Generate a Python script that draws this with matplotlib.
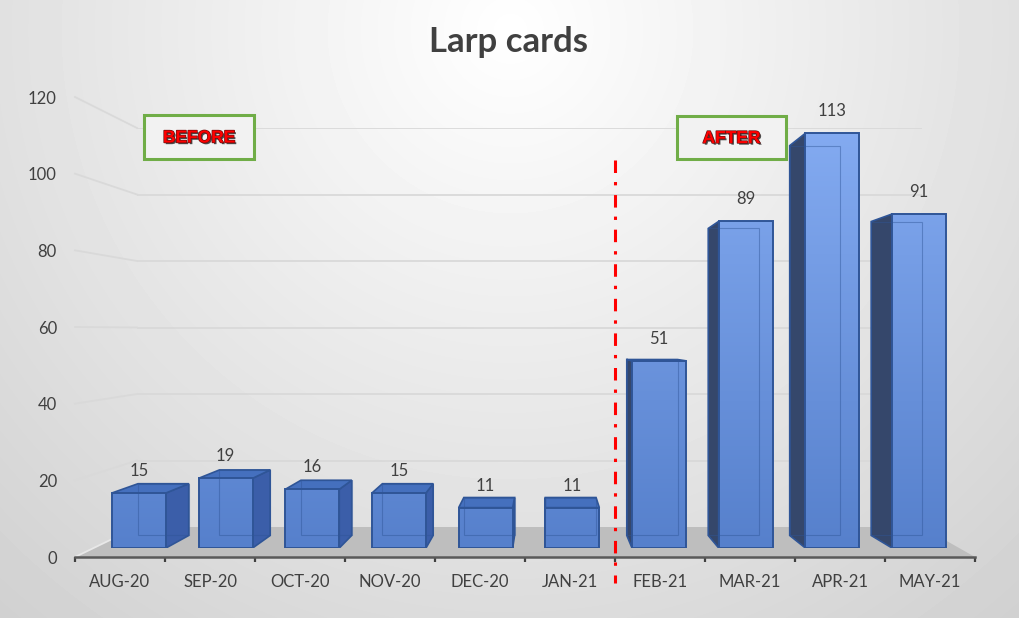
import numpy as np
import matplotlib
matplotlib.use("Agg")
import matplotlib.pyplot as plt
from matplotlib.patches import Polygon, Rectangle
from matplotlib.colors import LinearSegmentedColormap
import matplotlib.patheffects as pe

months = ["AUG-20", "SEP-20", "OCT-20", "NOV-20", "DEC-20",
          "JAN-21", "FEB-21", "MAR-21", "APR-21", "MAY-21"]
cards = [15, 19, 16, 15, 11, 11, 51, 89, 113, 91]
y_ticks = [0, 20, 40, 60, 80, 100, 120]
split_at = 5.5  # between JAN-21 and FEB-21

plt.rcParams["font.family"] = ["Lato", "DejaVu Sans"]
plt.rcParams["lines.scale_dashes"] = False

W, H = 1020, 618
fig = plt.figure(figsize=(W / 100, H / 100), dpi=100)


def px_axes(left, top, right, bottom, z):
    # axes placed by pixel box (top-left origin)
    ax = fig.add_axes([left / W, 1 - bottom / H, (right - left) / W, (bottom - top) / H])
    ax.set_zorder(z)
    ax.patch.set_alpha(0)
    return ax


# background with soft radial light
bg = px_axes(0, 0, W, H, 0)
bg.set_xlim(0, W)
bg.set_ylim(H, 0)
bg.axis("off")
yy, xx = np.mgrid[0:H, 0:W]
shade = np.clip(1 - 0.000235 * np.hypot(xx - 510, yy - 30), 0, 1)
bg.imshow(shade, cmap="gray", vmin=0, vmax=1, extent=[0, W, H, 0], aspect="auto")

# back wall
wall = px_axes(137, 128, 922, 527, 1)
wall.set_xlim(0, 1)
wall.set_ylim(0, 120)
wall.axis("off")
wall.hlines(y_ticks[1:], 0, 1, color="#D9D9D9", lw=1.3)

# front axis with tick labels
lab = px_axes(75, 97, 975, 557, 2)
lab.set_xlim(-0.5, 9.5)
lab.set_ylim(0, 120)


def to_bg(ax, x, y):
    return bg.transData.inverted().transform(ax.transData.transform((x, y)))


# left wall gridlines and floor
for v in y_ticks:
    p0 = to_bg(lab, -0.5, v)
    p1 = to_bg(wall, 0, v)
    bg.plot([p0[0], p1[0]], [p0[1], p1[1]], color="#D9D9D9" if v else "#E8E8E8", lw=1.3)
floor = [to_bg(lab, -0.5, 0), to_bg(lab, 9.5, 0), to_bg(wall, 1, 0), to_bg(wall, 0, 0)]
bg.add_patch(Polygon(floor, closed=True, fc="#BEBEBE", ec="none"))

lab.set_xticks(range(len(months)), months)
lab.set_xticks(np.arange(-0.5, len(months), 1), minor=True)
lab.set_yticks(y_ticks)
for side in ["top", "right", "left"]:
    lab.spines[side].set_visible(False)
lab.spines["bottom"].set_color("#595959")
lab.spines["bottom"].set_linewidth(1.8)
lab.tick_params(axis="x", which="major", length=0, pad=12.5, labelsize=12, labelcolor="#404040")
lab.tick_params(axis="x", which="minor", length=3.5, width=1.6, color="#404040", direction="out")
lab.tick_params(axis="y", length=0, pad=13, labelsize=12, labelcolor="#404040")
lab.plot([split_at, split_at], [103.6, -6.8], color="#FF0000", lw=2.2,
         linestyle=(0, (9, 6.5, 2.4, 7)), clip_on=False)

# 3d-looking bars
bar = px_axes(95.67, 107.6, 962.33, 548, 3)
bar.axis("off")
w = 0.623
s = 0.94
vx, vy = 4.684, 56.95
edge = "#2F5597"
x = np.arange(len(cards))

for i, v in enumerate(cards):
    fl, fr = i - w / 2, i + w / 2
    bl, br = vx + s * (fl - vx), vx + s * (fr - vx)
    bt, bb = vy + s * (v - vy), vy + s * (0 - vy)
    if bl < fl:
        bar.add_patch(Polygon([(fl, 0), (fl, v), (bl, bt), (bl, bb)], fc="#35476B", ec=edge, lw=1.2, zorder=2))
    if br > fr:
        bar.add_patch(Polygon([(fr, 0), (fr, v), (br, bt), (br, bb)], fc="#3B5EA9", ec=edge, lw=1.2, zorder=2))
    if bt > v:
        bar.add_patch(Polygon([(fl, v), (fr, v), (br, bt), (bl, bt)], fc="#4570BE", ec=edge, lw=1.2, zorder=2))
    bar.add_patch(Rectangle((bl, bb), br - bl, bt - bb, fill=False, ec=edge, lw=0.8, alpha=0.45, zorder=5))
    bar.text(i, v + 6, str(v), ha="center", va="center", fontsize=12, color="#404040")

front = bar.bar(x, cards, width=w, color="none", edgecolor=edge, lw=1.4, zorder=4)
grad_cmap = LinearSegmentedColormap.from_list("front", ["#5680CC", "#86ADF3"])
grad = np.linspace(0, 1, 256).reshape(-1, 1)
for i, rect in enumerate(front):
    img = bar.imshow(grad, cmap=grad_cmap, extent=[i - w / 2, i + w / 2, 0, 120],
                     origin="lower", aspect="auto", zorder=3)
    img.set_clip_path(rect)
bar.set_xlim(-0.5, 9.5)
bar.set_ylim(0, 120)

# overlay: title and before/after boxes
top = px_axes(0, 0, W, H, 5)
top.set_xlim(0, W)
top.set_ylim(H, 0)
top.axis("off")
top.text(509, 42, "Larp cards", ha="center", va="center", fontsize=25,
         fontweight="bold", color="#404040")

tag_fx = [pe.withSimplePatchShadow(offset=(1.2, -1.2), shadow_rgbFace="#3A3A3A", alpha=0.9),
          pe.withStroke(linewidth=1.0, foreground="#6A1010")]
for (bx0, by0, bx1, by1), tag in [((144, 115, 254, 159), "BEFORE"), ((677, 116, 786, 159), "AFTER")]:
    top.add_patch(Rectangle((bx0, by0), bx1 - bx0, by1 - by0, fc="#F2F2F2", ec="#70AD47", lw=2.2))
    top.text((bx0 + bx1) / 2, (by0 + by1) / 2 + 1, tag, ha="center", va="center", fontsize=12.5,
             fontweight="bold", color="#FF0000", family=["Liberation Sans", "DejaVu Sans"],
             path_effects=tag_fx)

fig.savefig("out.png", dpi=100)
